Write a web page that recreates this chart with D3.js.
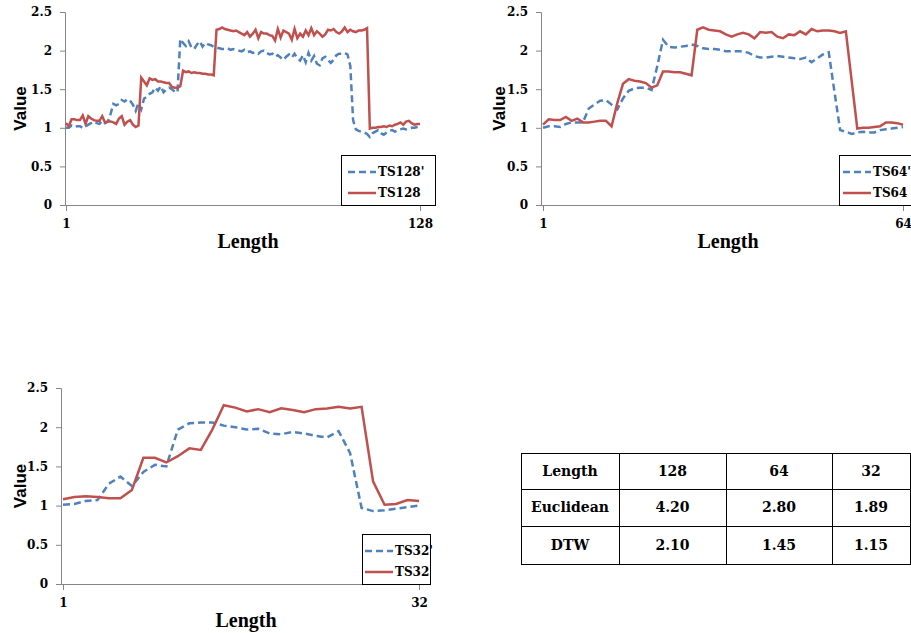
<!DOCTYPE html>
<html>
	<head>
		<title>TS charts | D3</title>
		<script src="https://d3js.org/d3.v7.min.js" charset="utf-8"></script>
		<style>
			body{
				margin: 0;
				background: white;
			}
			.tick text{
				font-family: "DejaVu Serif", serif;
				font-weight: bold;
				font-size: 12px;
				fill: #000;
			}
			.tick line, .axisline{
				stroke: #868686;
			}
			.ylab{
				font-family: "Liberation Sans", Arial, sans-serif;
				font-weight: bold;
				font-size: 17px;
			}
			.xlab{
				font-family: "Liberation Serif", serif;
				font-weight: bold;
				font-size: 20px;
			}
			.leg, .cell{
				font-family: "DejaVu Serif", serif;
				font-weight: bold;
				font-size: 12px;
			}
			.cell{
				font-size: 14px;
			}
		</style>
	</head>
	<body>
		<script>
			// values
			var ts128 = [1.06,1.02,1.11,1.11,1.10,1.10,1.16,1.05,1.15,1.12,1.10,1.09,1.09,1.15,1.07,1.08,
			             1.08,1.07,1.05,1.12,1.15,1.04,1.08,1.10,1.04,1.01,1.03,1.65,1.60,1.55,1.64,1.62,
			             1.63,1.60,1.60,1.59,1.58,1.58,1.53,1.52,1.52,1.54,1.74,1.72,1.73,1.71,1.72,1.71,
			             1.71,1.70,1.70,1.69,1.69,1.68,2.27,2.28,2.30,2.28,2.27,2.26,2.25,2.26,2.24,2.22,
			             2.20,2.24,2.18,2.22,2.27,2.16,2.24,2.22,2.22,2.20,2.19,2.13,2.28,2.17,2.26,2.24,
			             2.22,2.14,2.28,2.16,2.22,2.18,2.26,2.20,2.29,2.20,2.25,2.22,2.18,2.21,2.27,2.26,
			             2.28,2.24,2.22,2.25,2.30,2.24,2.27,2.25,2.24,2.26,2.26,2.27,2.29,0.99,1.00,1.00,
			             1.01,1.01,1.02,1.01,1.03,1.02,1.04,1.05,1.07,1.04,1.08,1.09,1.06,1.04,1.05,1.05];
			var ts128p = [1.00,1.00,1.03,1.01,1.02,1.02,1.00,1.02,1.04,1.06,1.08,1.06,1.05,1.09,1.06,1.08,
			              1.18,1.31,1.29,1.31,1.36,1.34,1.37,1.35,1.30,1.22,1.32,1.24,1.38,1.40,1.44,1.46,
			              1.52,1.48,1.54,1.46,1.50,1.52,1.50,1.47,1.46,2.15,2.10,2.06,2.12,2.04,2.02,2.08,
			              2.12,2.05,2.10,2.08,2.07,2.05,2.04,2.03,2.02,2.02,2.03,2.01,2.02,2.01,2.00,1.99,
			              2.01,1.98,1.99,1.97,1.98,1.96,1.99,2.00,1.97,1.95,1.96,1.92,1.94,1.91,1.88,1.92,
			              1.95,1.91,1.96,1.90,1.87,1.94,1.85,1.97,1.87,1.93,1.83,1.81,1.90,1.92,1.88,1.84,
			              1.88,1.94,1.96,1.96,1.97,1.95,1.80,1.10,0.98,0.96,0.95,0.94,0.92,0.88,0.93,0.95,
			              0.97,0.93,0.91,0.94,0.96,0.97,0.95,0.97,0.98,0.99,0.98,0.99,1.00,1.00,1.01,1.02];

			var ts64 = [1.04,1.11,1.10,1.10,1.14,1.09,1.12,1.07,1.07,1.08,1.09,1.09,1.02,1.32,1.57,1.63,
			            1.61,1.60,1.58,1.52,1.55,1.73,1.73,1.72,1.72,1.70,1.68,2.27,2.30,2.27,2.26,2.25,
			            2.21,2.18,2.21,2.23,2.21,2.16,2.24,2.23,2.24,2.18,2.16,2.21,2.20,2.25,2.21,2.28,
			            2.25,2.26,2.26,2.25,2.23,2.25,1.62,0.99,1.00,1.00,1.01,1.02,1.07,1.07,1.06,1.04];
			var ts64p = [1.00,1.02,1.02,1.01,1.05,1.07,1.07,1.07,1.25,1.30,1.35,1.36,1.30,1.24,1.38,1.48,
			             1.51,1.52,1.52,1.49,1.80,2.14,2.05,2.04,2.05,2.06,2.08,2.06,2.03,2.02,2.02,2.01,
			             1.99,1.99,1.99,1.99,1.97,1.93,1.91,1.91,1.92,1.93,1.92,1.91,1.90,1.89,1.91,1.85,
			             1.90,1.95,1.98,1.47,0.97,0.95,0.92,0.94,0.95,0.94,0.94,0.97,0.98,0.99,1.00,1.01];

			var ts32 = [1.08,1.11,1.12,1.11,1.095,1.095,1.20,1.61,1.61,1.55,1.63,1.73,1.71,1.97,2.28,2.25,
			            2.20,2.23,2.19,2.24,2.22,2.19,2.23,2.24,2.26,2.24,2.26,1.31,1.01,1.02,1.07,1.06];
			var ts32p = [1.01,1.02,1.06,1.07,1.28,1.37,1.25,1.43,1.52,1.50,1.97,2.05,2.06,2.06,2.02,2.00,
			             1.97,1.98,1.92,1.91,1.94,1.92,1.89,1.87,1.95,1.67,0.97,0.93,0.94,0.96,0.98,1.00];

			var yTicks = [0, 0.5, 1, 1.5, 2, 2.5];
			var yTickLabels = ["0", "0.5", "1", "1.5", "2", "2.5"];

			var tableHead = ["Length", "128", "64", "32"];
			var tableRowNames = ["Euclidean", "DTW"];
			var euclidean = ["4.20", "2.80", "1.89"];
			var dtw = ["2.10", "1.45", "1.15"];

			var red = "#c0504d";
			var blue = "#4f81bd";

			var svg = d3.select("body")
						.append("svg")
						.attr("width", 911)
						.attr("height", 633);

			function drawChart(c){
				var n = c.a.length;
				var x = d3.scaleLinear().domain([1, n]).range([c.x0, c.x1]);
				var y = d3.scaleLinear().domain([0, 2.5]).range([c.bottom, c.top]);
				var g = svg.append("g");

				// y axis
				g.append("g")
				 .attr("transform", "translate(" + c.ax + ",0)")
				 .call(d3.axisLeft(y).tickValues(yTicks).tickSize(5).tickPadding(8)
				 	.tickFormat(function(d, i){ return yTickLabels[i]; }))
				 .select(".domain").attr("stroke", "#868686");

				// x axis
				var xa = g.append("g")
				 .attr("transform", "translate(0," + c.bottom + ")")
				 .call(d3.axisBottom(x).tickValues([1, n]).tickSize(6).tickPadding(8).tickFormat(d3.format("d")));
				xa.select(".domain").remove();
				g.append("line").attr("class", "axisline")
				 .attr("x1", c.ax).attr("x2", c.axEnd)
				 .attr("y1", c.bottom + 0.5).attr("y2", c.bottom + 0.5);

				var line = d3.line()
							 .x(function(d, i){ return x(i + 1); })
							 .y(function(d){ return y(d); });

				g.append("path").datum(c.b)
				 .attr("fill", "none").attr("stroke", blue).attr("stroke-width", 2.5)
				 .attr("stroke-dasharray", "7,4").attr("d", line);
				g.append("path").datum(c.a)
				 .attr("fill", "none").attr("stroke", red).attr("stroke-width", 2.5)
				 .attr("d", line);

				g.append("text").attr("class", "ylab")
				 .attr("transform", "translate(" + c.vx + "," + ((c.top + c.bottom) / 2) + ") rotate(-90)")
				 .attr("text-anchor", "middle").attr("dy", "0.35em").text("Value");
				g.append("text").attr("class", "xlab")
				 .attr("x", (c.x0 + c.x1) / 2 + 5).attr("y", c.bottom + 43)
				 .attr("text-anchor", "middle").text("Length");

				// legend
				var lg = g.append("g").attr("transform", "translate(" + c.lx + "," + (c.bottom - 50) + ")");
				lg.append("rect").attr("x", 0.5).attr("y", 0.5).attr("width", c.lw).attr("height", 50)
				  .attr("fill", "white").attr("stroke", "#000");
				var items = [[c.names[1], blue, "7,4"], [c.names[0], red, null]];
				items.forEach(function(it, i){
					var yy = 17 + i * 21;
					lg.append("line").attr("x1", c.ll).attr("x2", c.ll + 28).attr("y1", yy).attr("y2", yy)
					  .attr("stroke", it[1]).attr("stroke-width", 2.5).attr("stroke-dasharray", it[2]);
					lg.append("text").attr("class", "leg").attr("x", c.ll + 30).attr("y", yy)
					  .attr("dy", "0.35em").text(it[0]);
				});
			}

			drawChart({a: ts128, b: ts128p, names: ["TS128", "TS128'"],
				ax: 65, axEnd: 435, x0: 66, x1: 420, top: 12, bottom: 205, vx: 20,
				lx: 341, lw: 94, ll: 7});
			drawChart({a: ts64, b: ts64p, names: ["TS64", "TS64'"],
				ax: 541, axEnd: 911, x0: 543, x1: 903, top: 12, bottom: 205, vx: 499,
				lx: 839, lw: 80, ll: 4});
			drawChart({a: ts32, b: ts32p, names: ["TS32", "TS32'"],
				ax: 61, axEnd: 430, x0: 63, x1: 419, top: 388, bottom: 584, vx: 20,
				lx: 362, lw: 68, ll: 3});

			// table
			var colX = [521, 619, 726, 832, 910];
			var rowY = [453, 489, 526, 564];
			var cells = [tableHead, [tableRowNames[0]].concat(euclidean), [tableRowNames[1]].concat(dtw)];
			var tg = svg.append("g");
			tg.append("rect").attr("x", colX[0] + 0.5).attr("y", rowY[0] + 0.5)
			  .attr("width", colX[4] - colX[0]).attr("height", rowY[3] - rowY[0])
			  .attr("fill", "none").attr("stroke", "#000");
			colX.slice(1, 4).forEach(function(cx){
				tg.append("line").attr("x1", cx + 0.5).attr("x2", cx + 0.5).attr("y1", rowY[0]).attr("y2", rowY[3])
				  .attr("stroke", "#000");
			});
			rowY.slice(1, 3).forEach(function(ry){
				tg.append("line").attr("x1", colX[0]).attr("x2", colX[4]).attr("y1", ry + 0.5).attr("y2", ry + 0.5)
				  .attr("stroke", "#000");
			});
			cells.forEach(function(row, r){
				row.forEach(function(t, c){
					tg.append("text").attr("class", "cell")
					  .attr("x", (colX[c] + colX[c + 1]) / 2).attr("y", (rowY[r] + rowY[r + 1]) / 2)
					  .attr("text-anchor", "middle").attr("dy", "0.35em").text(t);
				});
			});
		</script>
	</body>
</html>
